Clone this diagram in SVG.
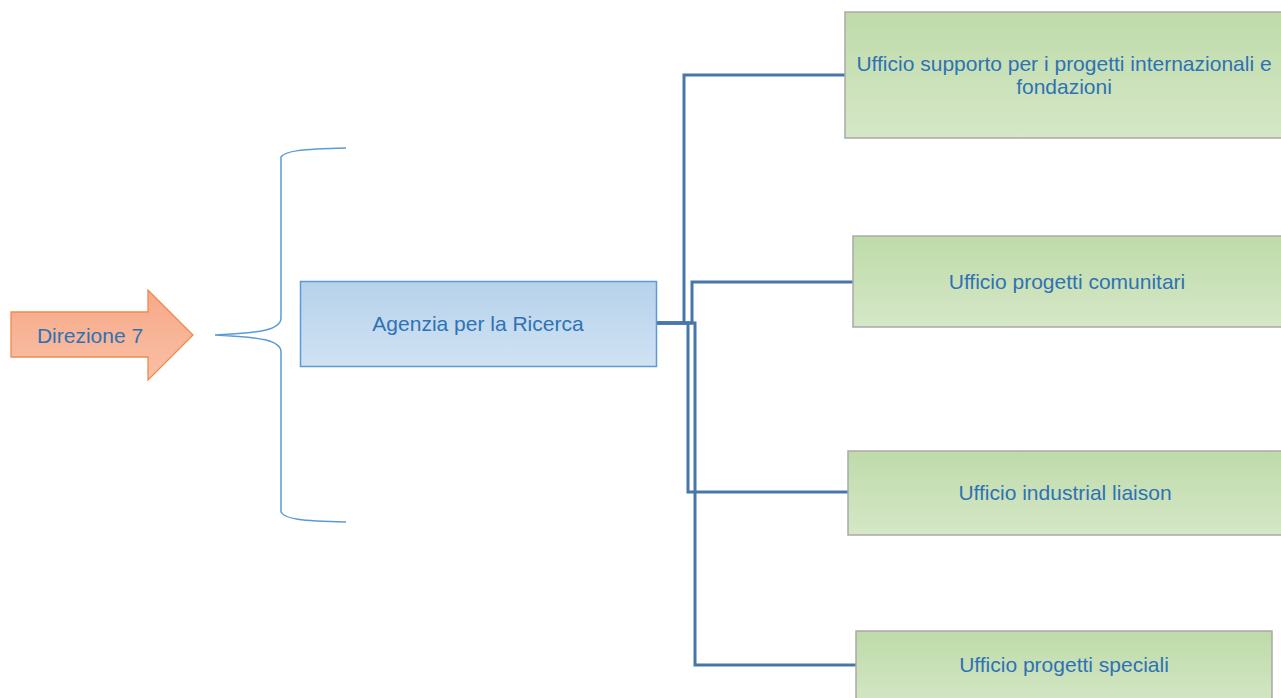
<svg xmlns="http://www.w3.org/2000/svg" width="1281" height="698" viewBox="0 0 1281 698">
  <defs>
    <linearGradient id="gOrange" x1="0" y1="0" x2="0" y2="1">
      <stop offset="0" stop-color="#f7a888"/>
      <stop offset="1" stop-color="#f9c0a6"/>
    </linearGradient>
    <linearGradient id="gBlue" x1="0" y1="0" x2="0" y2="1">
      <stop offset="0" stop-color="#b6d2eb"/>
      <stop offset="1" stop-color="#d0e2f3"/>
    </linearGradient>
    <linearGradient id="gGreen" x1="0" y1="0" x2="0" y2="1">
      <stop offset="0" stop-color="#bedba9"/>
      <stop offset="1" stop-color="#d5e7c7"/>
    </linearGradient>
    <style>
      .lbl { font-family: "Liberation Sans", Arial, sans-serif; font-size: 21px; fill: #2f72b4; text-anchor: middle; dominant-baseline: central; }
      .office { fill: url(#gGreen); stroke: #a9a9a9; stroke-width: 1.5; }
      .conn { fill: none; stroke: #4677a8; stroke-width: 3; }
      .brace { fill: none; stroke: #5b9bd5; stroke-width: 1.5; }
    </style>
  </defs>

  <!-- source arrow -->
  <g id="direzione">
    <path d="M11,312 L148,312 L148,290 L193,335 L148,380 L148,357 L11,357 Z" fill="url(#gOrange)" stroke="#ef8a4c" stroke-width="1.3"/>
    <text class="lbl" x="90" y="335">Direzione 7</text>
  </g>

  <!-- curly brace -->
  <g id="brace">
    <path class="brace" d="M346,148 C300,149 285,151 281,157 L281,318 C281,330 260,333 215,335 C260,337 281,340 281,352 L281,512 C285,519 300,521 346,522"/>
  </g>

  <!-- connectors -->
  <g id="connectors">
    <path class="conn" d="M656,323 L684,323 L684,75 L845,75"/>
    <path class="conn" d="M656,323 L692,323 L692,282 L853,282"/>
    <path class="conn" d="M656,323 L688,323 L688,492 L848,492"/>
    <path class="conn" d="M656,323 L695,323 L695,665 L856,665"/>
  </g>

  <g id="agenzia">
    <rect x="300.5" y="281.5" width="356" height="85" fill="url(#gBlue)" stroke="#5b9bd5" stroke-width="1.5"/>
    <text class="lbl" x="478" y="323">Agenzia per la Ricerca</text>
  </g>

  <g id="ufficio-internazionali">
    <rect class="office" x="845" y="12" width="440" height="126"/>
    <text class="lbl" x="1064" y="63">Ufficio supporto per i progetti internazionali e</text>
    <text class="lbl" x="1064" y="86">fondazioni</text>
  </g>

  <g id="ufficio-comunitari">
    <rect class="office" x="853" y="236" width="432" height="91"/>
    <text class="lbl" x="1067" y="281">Ufficio progetti comunitari</text>
  </g>

  <g id="ufficio-liaison">
    <rect class="office" x="848" y="451" width="437" height="84"/>
    <text class="lbl" x="1065" y="492">Ufficio industrial liaison</text>
  </g>

  <g id="ufficio-speciali">
    <rect class="office" x="856" y="631" width="416" height="80"/>
    <text class="lbl" x="1064" y="664">Ufficio progetti speciali</text>
  </g>
</svg>
